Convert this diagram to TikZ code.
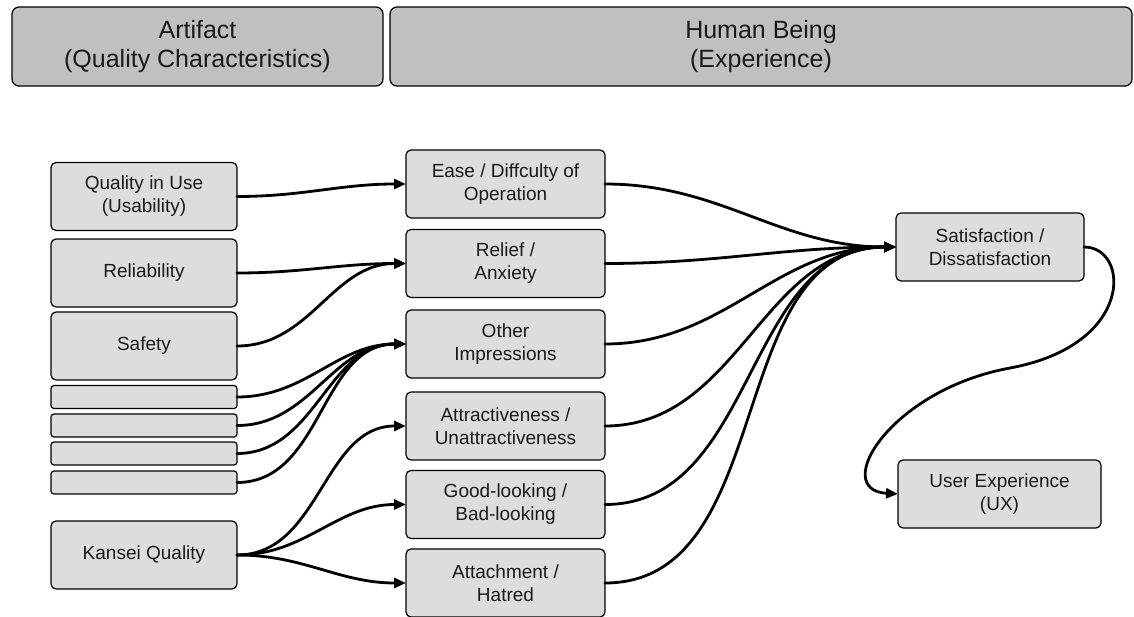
\documentclass[tikz,border=0pt]{standalone}
\usepackage{fontspec}
\setmainfont{Liberation Sans}
\usetikzlibrary{arrows.meta}
\definecolor{headfill}{HTML}{C0C0C0}
\definecolor{boxfill}{HTML}{DDDDDD}
\definecolor{ink}{HTML}{1A1A1A}
\begin{document}
\begin{tikzpicture}[x=1pt,y=-1pt,
  base/.style={rectangle, rounded corners=5pt, draw=black,
    line width=1.2pt, inner sep=0pt, outer sep=0pt, align=center, text=ink},
  head/.style={base, fill=headfill, rounded corners=7pt,
    font=\fontsize{25}{29}\selectfont, minimum height=79pt},
  box/.style={base, fill=boxfill, font=\fontsize{19}{23}\selectfont,
    minimum height=68pt},
  leftbox/.style={box, minimum width=186pt},
  bar/.style={base, fill=boxfill, rounded corners=3pt,
    minimum width=186pt, minimum height=23pt},
  midbox/.style={box, minimum width=199pt},
  conn/.style={line width=2.8pt, line cap=round, line join=round,
    -{Triangle[length=12pt,width=10pt]}},
  curve/.style={out=0, in=180}]
\useasboundingbox (0,0) rectangle (1134,617);

% column headers
\node[head, minimum width=371pt] (hart) at (197.5,46.5) {Artifact\\(Quality Characteristics)};
\node[head, minimum width=742pt] (hhum) at (761,46.5) {Human Being\\(Experience)};

% quality characteristics of the artifact
\node[leftbox] (qiu)  at (144,196.5) {Quality in Use\\(Usability)};
\node[leftbox] (rel)  at (144,273)   {Reliability};
\node[leftbox] (saf)  at (144,346)   {Safety};
\node[bar]     (b1)   at (144,397)   {};
\node[bar]     (b2)   at (144,425.5) {};
\node[bar]     (b3)   at (144,453.5) {};
\node[bar]     (b4)   at (144,482.5) {};
\node[leftbox] (kan)  at (144,555)   {Kansei Quality};

% experiences of the human being
\node[midbox] (ease) at (505.5,184)   {Ease / Diffculty of\\Operation};
\node[midbox] (reli) at (505.5,263.5) {Relief /\\Anxiety};
\node[midbox] (oth)  at (505.5,344)   {Other\\Impressions};
\node[midbox] (attr) at (505.5,426)   {Attractiveness /\\Unattractiveness};
\node[midbox] (good) at (505.5,504.5) {Good-looking /\\Bad-looking};
\node[midbox] (atch) at (505.5,583)   {Attachment /\\Hatred};

\node[box, minimum width=188pt] (sat) at (990,247)   {Satisfaction /\\Dissatisfaction};
\node[box, minimum width=203pt] (ux)  at (999.5,494) {User Experience\\(UX)};

% artifact -> experience
\draw[conn] (qiu.east) to[curve] (ease.west);
\draw[conn] (rel.east) to[curve] (reli.west);
\draw[conn] (saf.east) to[curve] (reli.west);
\foreach \b in {b1,b2,b3,b4}
  \draw[conn] (\b.east) to[curve] (oth.west);
\draw[conn] (kan.east) to[curve] (attr.west);
\draw[conn] (kan.east) to[curve] (good.west);
\draw[conn] (kan.east) to[curve] (atch.west);

% experience -> satisfaction
\foreach \m in {ease,reli,oth,attr,good,atch}
  \draw[conn] (\m.east) to[curve] (sat.west);

% satisfaction -> user experience
\coordinate (loop) at (1010,368);
\draw[conn] (sat.east) .. controls (1130,247) and (1135,345) .. (loop)
  .. controls (890,390) and (830,490) .. (ux.west);
\end{tikzpicture}
\end{document}
